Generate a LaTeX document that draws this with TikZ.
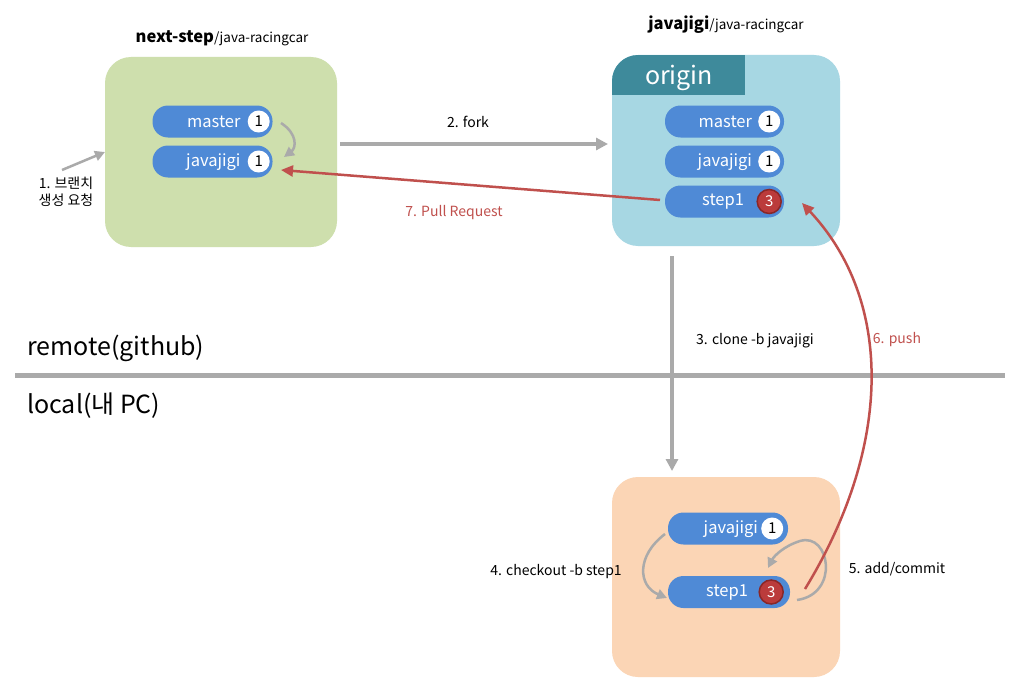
\documentclass[tikz,border=0pt]{standalone}
\usepackage{fontspec}
\setmainfont{Noto Sans CJK KR}
\usetikzlibrary{arrows.meta,calc}
\definecolor{greenbox}{HTML}{CEDFAD}
\definecolor{bluebox}{HTML}{A7D7E3}
\definecolor{originhdr}{HTML}{3E8A9B}
\definecolor{pillblue}{HTML}{4F8AD6}
\definecolor{orangebox}{HTML}{FBD5B5}
\definecolor{arrgray}{HTML}{AAAAAA}
\definecolor{arrred}{HTML}{C0504D}
\definecolor{badgered}{HTML}{BB3B3B}
\definecolor{badgeborder}{HTML}{8A2727}
\tikzset{
  pill/.style={rectangle, rounded corners=15.5pt, fill=pillblue, minimum width=#1, minimum height=32pt, inner sep=0pt},
  pilltext/.style={text=white, font=\fontsize{16.5}{19}\selectfont, inner sep=0pt, anchor=east},
  wbadge/.style={circle, fill=white, minimum size=22pt, inner sep=0pt, text=black, font=\fontsize{15}{17}\selectfont},
  rbadge/.style={circle, fill=badgered, draw=badgeborder, line width=1.5pt, minimum size=24pt, inner sep=0pt, text=white, font=\fontsize{15}{17}\selectfont},
  grayarrow/.style={draw=arrgray, line width=3.5pt, -{Triangle[length=12pt,width=12pt]}},
  thingray/.style={draw=arrgray, line width=2.5pt, -{Triangle[length=10pt,width=10pt]}},
  redarrow/.style={draw=arrred, line width=2.5pt, -{Triangle[length=12pt,width=11pt]}},
  lbl/.style={font=\fontsize{14}{17}\selectfont, text=black, inner sep=0pt},
  redlbl/.style={font=\fontsize{14}{17}\selectfont, text=arrred, inner sep=0pt},
  bigtxt/.style={font=\fontsize{25}{29}\selectfont, anchor=west, inner sep=0pt},
  title/.style={font=\fontsize{16.5}{19}\selectfont, inner sep=0pt},
}
\begin{document}
\begin{tikzpicture}[x=1pt,y=-1pt]
\useasboundingbox (0,0) rectangle (1023,693);
\fill[white] (0,0) rectangle (1023,693);

% green box
\fill[greenbox, rounded corners=26pt] (105,57) rectangle (337,247);
\node[title] (t1) at (222,38) {\textbf{next-step}{\fontsize{13.5}{16}\selectfont/java-racingcar}};
\node[pill=120pt] (gm) at (212.5,121.5) {};
\node[pilltext] (gmt) at ($(gm.east)+(-32,0.5)$) {master};
\node[wbadge] (gmb) at ($(gm.east)+(-14,0)$) {1};
\node[pill=120pt] (gj) at (212.5,161.5) {};
\node[pilltext] (gjt) at ($(gj.east)+(-32,0.5)$) {javajigi};
\node[wbadge] (gjb) at ($(gj.east)+(-14,0)$) {1};
\coordinate (gc1) at (281,123);
\coordinate (gc2) at (284,157);
\draw[thingray] (gc1) .. controls (298,134) and (296,148) .. (gc2);

% blue box
\fill[bluebox, rounded corners=26pt] (612,55) rectangle (840,246);
\begin{scope}
\clip[rounded corners=26pt] (612,55) rectangle (840,246);
\fill[originhdr] (612,55) rectangle (745,95);
\end{scope}
\node[text=white, font=\fontsize{25}{29}\selectfont, inner sep=0pt] (orig) at (679,78) {origin};
\node[title] (t2) at (726,25) {\textbf{javajigi}{\fontsize{13.5}{16}\selectfont/java-racingcar}};
\node[pill=119pt] (om) at (724.5,121.5) {};
\node[pilltext] (omt) at ($(om.east)+(-32,0.5)$) {master};
\node[wbadge] (omb) at ($(om.east)+(-15,0)$) {1};
\node[pill=119pt] (oj) at (724.5,161.5) {};
\node[pilltext] (ojt) at ($(oj.east)+(-32,0.5)$) {javajigi};
\node[wbadge] (ojb) at ($(oj.east)+(-15,0)$) {1};
\node[pill=119pt] (os) at (724.5,201.5) {};
\node[pilltext] (ost) at ($(os.east)+(-40,0.5)$) {step1};
\node[rbadge] (osb) at ($(os.east)+(-15,0)$) {3};

% fork
\coordinate (f1) at (340,144);
\coordinate (f2) at (608,144);
\draw[grayarrow] (f1) -- (f2);
\node[lbl] (fl) at (468,122) {2. fork};

% pull request
\coordinate (pr1) at (660,200);
\coordinate (pr2) at (281,170);
\draw[redarrow] (pr1) -- (pr2);
\node[redlbl] (prl) at (454,213) {7. Pull Request};

% 1. branch request
\node[lbl, align=center, font=\fontsize{14}{17}\selectfont] (b1) at (66,192) {1. 브랜치\\생성 요청};
\coordinate (ba1) at (62,170);
\coordinate (ba2) at (105,152);
\draw[thingray] (ba1) -- (ba2);

% divider
\coordinate (d1) at (15,375);
\coordinate (d2) at (1005,375);
\draw[draw=arrgray, line width=5pt] (d1) -- (d2);
\node[bigtxt] (rem) at (27,348) {remote(github)};
\node[bigtxt] (loc) at (27,406) {local(내 PC)};

% clone
\coordinate (c1) at (672,256);
\coordinate (c2) at (672,471);
\draw[grayarrow] (c1) -- (c2);
\node[lbl] (cl) at (755,341) {3. clone -b javajigi};

% orange box
\fill[orangebox, rounded corners=26pt] (612,477) rectangle (840,677);
\node[pill=120pt] (lj) at (728,528.5) {};
\node[pilltext] (ljt) at ($(lj.east)+(-30,0.5)$) {javajigi};
\node[wbadge] (ljb) at ($(lj.east)+(-16,0)$) {1};
\node[pill=122pt] (ls) at (729,592) {};
\node[pilltext] (lst) at ($(ls.east)+(-42,0.5)$) {step1};
\node[rbadge] (lsb) at ($(ls.east)+(-19,0)$) {3};

% checkout
\coordinate (k1) at (665,534);
\coordinate (k2) at (667,598);
\draw[thingray] (k1) .. controls (636,556) and (638,586) .. (k2);
\node[lbl] (kl) at (556,572) {4. checkout -b step1};

% add/commit
\coordinate (a1) at (797,600);
\coordinate (a2) at (768,568);
\draw[thingray] (a1) .. controls (840,594) and (830,532) .. (800,541) .. controls (784,546) and (774,556) .. (a2);
\node[lbl] (al) at (897,569) {5. add/commit};

% push
\coordinate (p1) at (805,589);
\coordinate (p2) at (802,203);
\draw[redarrow] (p1) .. controls (893,445) and (893,300) .. (p2);
\node[redlbl] (pl) at (897,340) {6. push};
\end{tikzpicture}
\end{document}
